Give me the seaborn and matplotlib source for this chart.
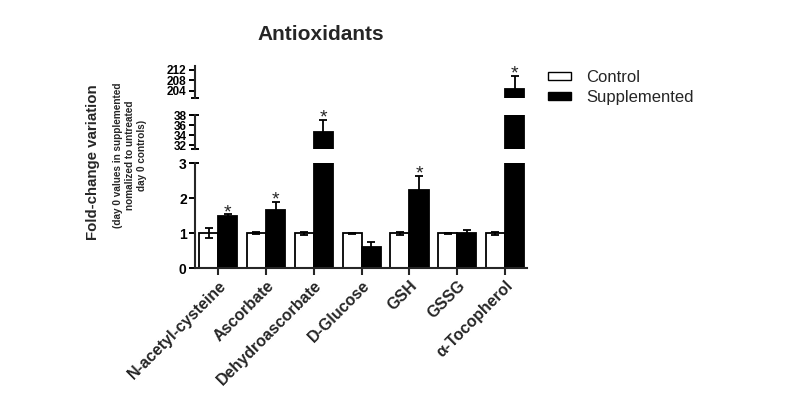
import numpy as np
import pandas as pd
import matplotlib
matplotlib.use("Agg")
import matplotlib.pyplot as plt
from matplotlib.patches import Patch
import seaborn as sns

# ---- data ----
categories = ["N-acetyl-cysteine", "Ascorbate", "Dehydroascorbate", "D-Glucose",
              "GSH", "GSSG", "\u03b1-Tocopherol"]
groups = ["Control", "Supplemented"]
control = [1.0, 1.0, 1.0, 1.0, 1.0, 1.0, 1.0]
control_err = [0.14, 0.03, 0.05, 0.01, 0.05, 0.02, 0.04]
supplemented = [1.50, 1.66, 34.7, 0.62, 2.24, 1.02, 204.6]
supplemented_err = [0.04, 0.24, 2.4, 0.12, 0.40, 0.08, 5.2]
significant = [True, True, True, False, True, False, True]

bottom_ticks = [0, 1, 2, 3]
middle_ticks = [32, 34, 36, 38]
top_ticks = [204, 208, 212]

df = pd.DataFrame({
    "category": categories * 2,
    "group": [groups[0]] * len(categories) + [groups[1]] * len(categories),
    "value": control + supplemented,
    "err": control_err + supplemented_err,
})

sns.set_theme(style="ticks")
plt.rcParams["font.family"] = ["Liberation Sans", "DejaVu Sans"]

W, H = 787, 404
fig = plt.figure(figsize=(W / 100, H / 100), dpi=100)

left = 195 / W
width = (527 - 195) / W
ax_bot = fig.add_axes([left, (H - 268.3) / H, width, 105 / H])
ax_mid = fig.add_axes([left, (H - 149) / H, width, 34 / H])
ax_top = fig.add_axes([left, (H - 98.3) / H, width, 32.3 / H])

palette = {"Control": "white", "Supplemented": "black"}
limits = {ax_bot: (0, 3), ax_mid: (31.2, 38), ax_top: (201.2, 213.5)}
ticks = {ax_bot: bottom_ticks, ax_mid: middle_ticks, ax_top: top_ticks}

for ax in (ax_bot, ax_mid, ax_top):
    sns.barplot(data=df, x="category", y="value", hue="group", order=categories,
                hue_order=groups, palette=palette, edgecolor="black", linewidth=1.3,
                errorbar=None, legend=False, ax=ax, zorder=2)
    # error bars at bar centres
    for cont, g in zip(ax.containers, groups):
        sub = df[df["group"] == g].set_index("category").loc[categories]
        xs = [p.get_x() + p.get_width() / 2 for p in cont.patches]
        ax.errorbar(xs, sub["value"], yerr=sub["err"], fmt="none", ecolor="black",
                    elinewidth=1.3, capsize=3, capthick=1.3, zorder=3)
    ax.set_ylim(*limits[ax])
    ax.set_yticks(ticks[ax])
    ax.set_xlim(-0.486, 6.46)
    ax.set_xlabel("")
    ax.set_ylabel("")
    ax.set_facecolor("white")
    for s in ("top", "right"):
        ax.spines[s].set_visible(False)
    ax.spines["left"].set_linewidth(1.5)
    ax.tick_params(axis="y", direction="out", length=4.5, width=1.4, pad=1.5,
                   labelsize=10 if ax is ax_bot else 8.5, colors="black")
    for lab in ax.get_yticklabels():
        lab.set_fontweight("bold")
    if ax is not ax_bot:
        ax.spines["bottom"].set_visible(False)
        ax.set_xticks([])

ax_bot.spines["bottom"].set_linewidth(1.5)
ax_bot.tick_params(axis="x", direction="out", length=5, width=1.5, pad=2, labelsize=11.5)
ax_bot.set_xticks(range(len(categories)))
ax_bot.set_xticklabels(categories, rotation=45, ha="right", rotation_mode="anchor",
                       fontweight="bold")

# serifs at the axis segment ends
def serif(ax, y):
    ax.plot([-0.012, 0.012], [y, y], transform=ax.get_yaxis_transform(),
            color="black", lw=1.4, clip_on=False, solid_capstyle="butt")

serif(ax_bot, 3)
serif(ax_mid, 38)
serif(ax_mid, 31.2)
serif(ax_top, 201.2)

# significance asterisks
sup_cont = ax_bot.containers[1]
sup_x = [p.get_x() + p.get_width() / 2 for p in sup_cont.patches]
for x, v, e, sig in zip(sup_x, supplemented, supplemented_err, significant):
    if not sig:
        continue
    top = v + e
    for ax in (ax_bot, ax_mid, ax_top):
        lo, hi = limits[ax]
        if lo <= top <= hi:
            ax.annotate("*", xy=(x, top), xytext=(0, -2), textcoords="offset points",
                        ha="center", va="baseline", fontsize=14, annotation_clip=False)
            break

# title and y labels
fig.text(320.7 / W, 1 - 35 / H, "Antioxidants", ha="center", va="center",
         fontsize=15, fontweight="bold")
fig.text(93.3 / W, 1 - 162 / H, "Fold-change variation", rotation=90, ha="center",
         va="center", fontsize=10.8, fontweight="bold")
fig.text(130 / W, 1 - 155 / H,
         "(day 0 values in supplemented\nnomalized to untreated\nday 0 controls)",
         rotation=90, ha="center", va="center", multialignment="center",
         fontsize=7.2, fontweight="bold", linespacing=1.3)

handles = [Patch(facecolor=palette[g], edgecolor="black", linewidth=1.0, label=g)
           for g in groups]
fig.legend(handles=handles, loc="upper left", bbox_to_anchor=(548 / W, 1 - 70 / H),
           frameon=False, fontsize=12, handlelength=1.4, handleheight=0.42,
           handletextpad=0.9, labelspacing=0.3, borderpad=0, borderaxespad=0)

fig.savefig("out.png", dpi=100, facecolor="white")
